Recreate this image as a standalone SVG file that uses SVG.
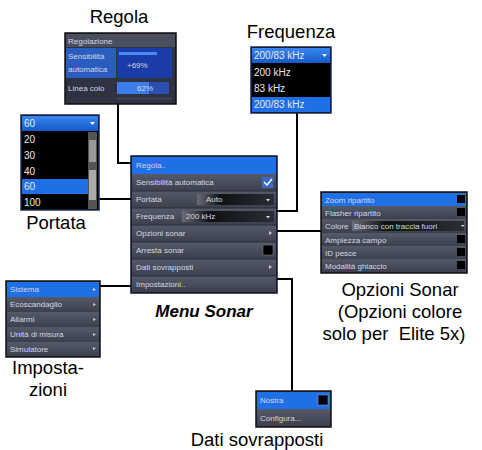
<svg xmlns="http://www.w3.org/2000/svg" width="482" height="450" viewBox="0 0 482 450">
<defs>
<style>
.lbl{font-family:"Liberation Sans",Arial,sans-serif;font-size:18.5px;fill:#000}
.t{font-family:"Liberation Sans",Arial,sans-serif;font-size:8px;fill:#d4d8e2}
.tb{font-family:"Liberation Sans",Arial,sans-serif;font-size:10px;fill:#e8e8e8}
.conn{fill:none;stroke:#000;stroke-width:2}
.sep{stroke:#2a2e3a;stroke-width:1}
</style>
<linearGradient id="gBlue" x1="0" y1="0" x2="0" y2="1">
<stop offset="0" stop-color="#3a86f0"/><stop offset="1" stop-color="#1559c8"/>
</linearGradient>
<linearGradient id="gRow" x1="0" y1="0" x2="0" y2="1">
<stop offset="0" stop-color="#555a69"/><stop offset="1" stop-color="#3c404d"/>
</linearGradient>
<linearGradient id="gDrop" x1="0" y1="0" x2="1" y2="0">
<stop offset="0" stop-color="#6a6e78"/><stop offset="0.3" stop-color="#111"/><stop offset="1" stop-color="#2a2d35"/>
</linearGradient>
</defs>
<rect width="482" height="450" fill="#fff"/>

<g id="connectors">
<polyline class="conn" points="118,104 118,163 131,163"/>
<line class="conn" x1="99" y1="199" x2="131" y2="199"/>
<polyline class="conn" points="297,113 297,211 277,211"/>
<line class="conn" x1="277" y1="231" x2="321" y2="231"/>
<polyline class="conn" points="277,279 292,279 292,391"/>
<line class="conn" x1="100" y1="286" x2="131" y2="286"/>
</g>

<g id="regola">
<text class="lbl" x="119" y="23" text-anchor="middle">Regola</text>
<rect x="65" y="33" width="111" height="71" fill="#2e3242" stroke="#111" stroke-width="1.5"/>
<rect x="66" y="34" width="109" height="13" fill="#4a4f60"/>
<text class="t" x="68" y="44" font-size="7">Regolazione</text>
<rect x="66" y="48" width="50" height="30" fill="#2a5dc0"/>
<text class="t" x="68" y="59">Sensibilità</text>
<text class="t" x="68" y="72">automatica</text>
<rect x="117" y="48" width="55" height="30" fill="#1a3ca8"/>
<rect x="119" y="52" width="38" height="3" fill="#4a8af0"/>
<text class="t" x="127" y="68" fill="#fff">+69%</text>
<text class="t" x="68" y="91">Linea colo</text>
<rect x="117" y="82" width="52" height="12" fill="#2a4fb0"/>
<rect x="117" y="82" width="32" height="12" fill="#3d7de8"/>
<text class="t" x="137" y="91" fill="#fff">62%</text>
<rect x="117" y="97" width="55" height="3" fill="#3a3f4e"/>
</g>

<g id="frequenza">
<text class="lbl" x="291" y="38" text-anchor="middle">Frequenza</text>
<rect x="251" y="47" width="80" height="66" fill="#000" stroke="#1a2a50" stroke-width="1.5"/>
<rect x="252" y="48" width="78" height="15" fill="url(#gBlue)"/>
<text class="tb" x="254" y="59">200/83 kHz</text>
<path d="M322,54 l5,0 l-2.5,3 z" fill="#fff"/>
<text class="tb" x="254" y="76">200 kHz</text>
<text class="tb" x="254" y="92">83 kHz</text>
<rect x="252" y="97" width="78" height="15" fill="#1f6fe6"/>
<text class="tb" x="254" y="108">200/83 kHz</text>
</g>

<g id="portata">
<rect x="21" y="115" width="78" height="95" fill="#000" stroke="#1a2a50" stroke-width="1.5"/>
<rect x="22" y="116" width="76" height="15" fill="url(#gBlue)"/>
<text class="tb" x="24" y="127">60</text>
<path d="M90,122 l5,0 l-2.5,3 z" fill="#fff"/>
<rect x="88" y="132" width="9" height="77" fill="#555"/>
<rect x="89" y="140" width="7" height="22" fill="#999"/>
<rect x="89" y="170" width="7" height="30" fill="#aaa"/>
<text class="tb" x="24" y="143">20</text>
<text class="tb" x="24" y="159">30</text>
<text class="tb" x="24" y="175">40</text>
<rect x="22" y="179" width="66" height="15" fill="#1f6fe6"/>
<text class="tb" x="24" y="190">60</text>
<text class="tb" x="24" y="206">100</text>
<text class="lbl" x="56" y="229" text-anchor="middle">Portata</text>
</g>

<g id="menu-sonar">
<rect x="131" y="156" width="146" height="137" fill="#3d4252" stroke="#0b1430" stroke-width="1.5"/>
<rect x="132" y="157" width="144" height="17" fill="#1f6fe6"/>
<text class="t" x="136" y="168">Regola..</text>
<rect x="132" y="174" width="144" height="17" fill="url(#gRow)"/>
<text class="t" x="136" y="185">Sensibilità automatica</text>
<rect x="262" y="177" width="11" height="11" fill="#3a6ac8"/>
<path d="M264,182 l3,3 l5,-6" stroke="#fff" stroke-width="1.4" fill="none"/>
<rect x="132" y="191" width="144" height="17" fill="url(#gRow)"/>
<text class="t" x="136" y="202">Portata</text>
<rect x="197" y="194" width="77" height="11" fill="url(#gDrop)"/>
<text class="t" x="206" y="202">Auto</text>
<path d="M266,199 l4,0 l-2,2.5 z" fill="#ddd"/>
<rect x="132" y="208" width="144" height="17" fill="url(#gRow)"/>
<text class="t" x="136" y="219">Frequenza</text>
<rect x="182" y="211" width="92" height="11" fill="url(#gDrop)"/>
<text class="t" x="186" y="219">200 kHz</text>
<path d="M266,216 l4,0 l-2,2.5 z" fill="#ddd"/>
<rect x="132" y="225" width="144" height="17" fill="url(#gRow)"/>
<text class="t" x="136" y="236">Opzioni sonar</text>
<path d="M269,231 l3,2 l-3,2 z" fill="#ccc"/>
<rect x="132" y="242" width="144" height="17" fill="url(#gRow)"/>
<text class="t" x="136" y="253">Arresta sonar</text>
<rect x="263" y="245" width="10" height="10" fill="#000" stroke="#888" stroke-width="0.5"/>
<rect x="132" y="259" width="144" height="17" fill="url(#gRow)"/>
<text class="t" x="136" y="270">Dati sovrapposti</text>
<path d="M269,265 l3,2 l-3,2 z" fill="#ccc"/>
<rect x="132" y="276" width="144" height="16" fill="url(#gRow)"/>
<text class="t" x="136" y="287">Impostazioni..</text>
<path class="sep" d="M132,191H276M132,208H276M132,225H276M132,242H276M132,259H276M132,276H276"/>
<text x="204" y="317" text-anchor="middle" style="font-family:'Liberation Sans',Arial,sans-serif;font-size:17px;font-weight:bold;font-style:italic">Menu Sonar</text>
</g>

<g id="opzioni-sonar">
<rect x="321" y="192" width="146" height="81" fill="#3d4252" stroke="#111" stroke-width="1.5"/>
<rect x="322" y="193" width="144" height="13" fill="#1f6fe6"/>
<text class="t" x="325" y="203" font-size="7">Zoom ripartito</text>
<rect x="457" y="195" width="8" height="8" fill="#000"/>
<rect x="322" y="206" width="144" height="13" fill="url(#gRow)"/>
<text class="t" x="325" y="216" font-size="7">Flasher ripartito</text>
<rect x="457" y="208" width="8" height="8" fill="#000"/>
<rect x="322" y="219" width="144" height="14" fill="url(#gRow)"/>
<text class="t" x="325" y="229" font-size="7">Colore</text>
<rect x="352" y="221" width="112" height="10" fill="url(#gDrop)"/>
<text class="t" x="354" y="229" font-size="7">Bianco con traccia fuori</text>
<path d="M461,225 l3.5,0 l-1.75,2 z" fill="#ddd"/>
<rect x="322" y="233" width="144" height="13" fill="url(#gRow)"/>
<text class="t" x="325" y="243" font-size="7">Ampiezza campo</text>
<rect x="457" y="235" width="8" height="8" fill="#000"/>
<rect x="322" y="246" width="144" height="13" fill="url(#gRow)"/>
<text class="t" x="325" y="256" font-size="7">ID pesce</text>
<rect x="457" y="248" width="8" height="8" fill="#000"/>
<rect x="322" y="259" width="144" height="13" fill="url(#gRow)"/>
<text class="t" x="325" y="269" font-size="7">Modalità ghiaccio</text>
<rect x="457" y="261" width="8" height="8" fill="#000"/>
<text class="lbl" x="400" y="296" text-anchor="middle">Opzioni Sonar</text>
<text class="lbl" x="400" y="318" text-anchor="middle">(Opzioni colore</text>
<text class="lbl" x="394" y="340" text-anchor="middle">solo per&#160; Elite 5x)</text>
</g>

<g id="impostazioni">
<rect x="6" y="281" width="94" height="76" fill="#3d4252" stroke="#111" stroke-width="1.5"/>
<rect x="7" y="282" width="92" height="15" fill="#1f6fe6"/>
<text class="t" x="10" y="292" font-size="7">Sistema</text>
<path d="M93,288 l3,1.5 l-3,1.5 z" fill="#ddd"/>
<rect x="7" y="297" width="92" height="15" fill="url(#gRow)"/>
<text class="t" x="10" y="307" font-size="7">Ecoscandaglio</text>
<path d="M93,303 l3,1.5 l-3,1.5 z" fill="#ccc"/>
<rect x="7" y="312" width="92" height="15" fill="url(#gRow)"/>
<text class="t" x="10" y="322" font-size="7">Allarmi</text>
<path d="M93,318 l3,1.5 l-3,1.5 z" fill="#ccc"/>
<rect x="7" y="327" width="92" height="15" fill="url(#gRow)"/>
<text class="t" x="10" y="337" font-size="7">Unità di misura</text>
<path d="M93,333 l3,1.5 l-3,1.5 z" fill="#ccc"/>
<rect x="7" y="342" width="92" height="14" fill="url(#gRow)"/>
<text class="t" x="10" y="352" font-size="7">Simulatore</text>
<path d="M93,347 l3,1.5 l-3,1.5 z" fill="#ccc"/>
<text class="lbl" x="48" y="374" text-anchor="middle">Imposta-</text>
<text class="lbl" x="48" y="396" text-anchor="middle">zioni</text>
</g>

<g id="dati-sovrapposti">
<rect x="256" y="391" width="75" height="36" fill="#3d4252" stroke="#111" stroke-width="1.5"/>
<rect x="257" y="392" width="73" height="17" fill="#1f6fe6"/>
<text class="t" x="260" y="403">Nostra</text>
<rect x="318" y="395" width="10" height="10" fill="#000" stroke="#aaa" stroke-width="0.5"/>
<rect x="257" y="409" width="73" height="17" fill="url(#gRow)"/>
<text class="t" x="260" y="421">Configura...</text>
<text class="lbl" x="257" y="446" text-anchor="middle">Dati sovrapposti</text>
</g>
</svg>
